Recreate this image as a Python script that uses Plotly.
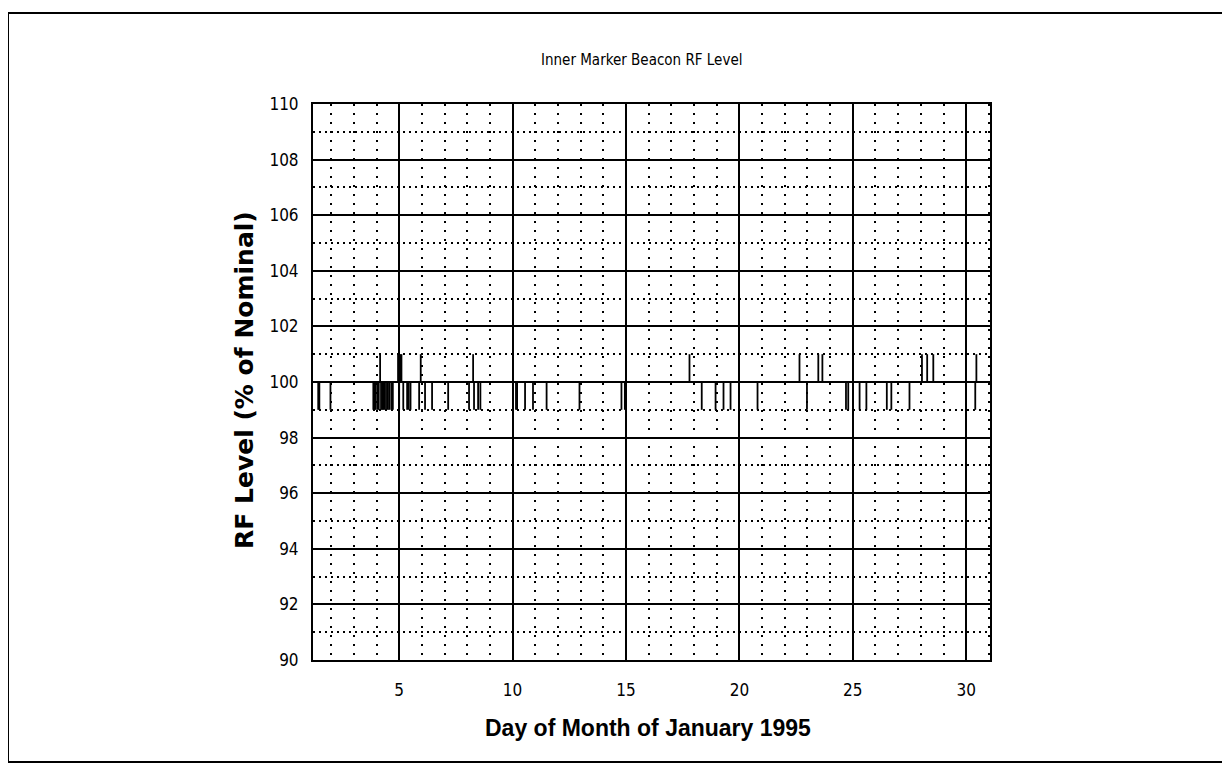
import plotly.graph_objects as go

# Signal readings: nominal level with brief excursions (day of month, % of nominal)
NOMINAL = 100
LOW_LEVEL = 99
HIGH_LEVEL = 101
DAY_START = 1.2
DAY_END = 31.05

low_days = [
    1.43, 1.48, 1.97, 3.86, 3.92, 3.97, 4.05, 4.1, 4.2, 4.25, 4.3, 4.35, 4.42,
    4.5, 4.56, 4.65, 4.72, 5.0, 5.18, 5.35, 5.42, 5.5, 5.88, 6.14, 6.45, 7.16,
    8.08, 8.3, 8.48, 8.58, 10.15, 10.2, 10.55, 10.9, 11.5, 12.95, 14.8, 14.95,
    18.34, 18.95, 19.3, 19.61, 20.8, 22.98, 24.7, 24.8, 25.3, 25.6, 26.5,
    26.7, 27.5, 30.4,
]
high_days = [
    4.16, 4.95, 5.0, 5.05, 5.1, 5.95, 8.26, 17.8, 22.65, 23.48, 23.66,
    28.05, 28.28, 28.55, 30.45,
]

x_ticks = [5, 10, 15, 20, 25, 30]
y_ticks = list(range(90, 111, 2))

FONT_NARROW = 'DejaVu Sans Condensed, Liberation Sans Narrow, Arial Narrow, sans-serif'
FONT_MAIN = 'Liberation Sans, Arial, sans-serif'
FONT_WIDE = 'DejaVu Sans, Liberation Sans, sans-serif'

# build the trace: baseline plus vertical excursions
xs = [DAY_START, DAY_END, None]
ys = [NOMINAL, NOMINAL, None]
for d in low_days:
    xs += [d, d, None]
    ys += [NOMINAL, LOW_LEVEL, None]
for d in high_days:
    xs += [d, d, None]
    ys += [NOMINAL, HIGH_LEVEL, None]

fig = go.Figure()
fig.add_trace(go.Scatter(
    x=xs, y=ys, mode='lines',
    line=dict(color='black', width=1.8),
    showlegend=False, hoverinfo='skip',
))

# page sits 8px in from the window edge (body margin)
OFF = 8
W, H = 1230 - OFF, 770 - OFF
PL, PR, PT, PB = 313, 990, 104, 660   # plot box in window pixels
L, T = PL - OFF, PT - OFF
R, B = W - (PR - OFF), H - (PB - OFF)
pw, ph = PR - PL, PB - PT


def px_x(p):
    return (p - PL) / pw


def px_y(p):
    return (PB - p) / ph


fig.update_layout(
    width=W, height=H,
    paper_bgcolor='white', plot_bgcolor='white',
    margin=dict(l=L, r=R, t=T, b=B, pad=0),
    showlegend=False,
    xaxis=dict(
        range=[DAY_START, DAY_END],
        tickvals=x_ticks,
        ticks='outside', ticklen=14, tickcolor='rgba(0,0,0,0)',
        tickfont=dict(family=FONT_NARROW, size=17, color='black'),
        showgrid=True, gridcolor='black', gridwidth=2,
        showline=True, linecolor='black', linewidth=2, mirror=True,
        zeroline=False,
        minor=dict(dtick=1, tick0=0, showgrid=True, gridcolor='black',
                   gridwidth=2, griddash='2px,7px'),
    ),
    yaxis=dict(
        range=[90, 110],
        tickvals=y_ticks,
        ticks='outside', ticklen=9, tickcolor='rgba(0,0,0,0)',
        tickfont=dict(family=FONT_NARROW, size=17, color='black'),
        showgrid=True, gridcolor='black', gridwidth=2,
        showline=True, linecolor='black', linewidth=2, mirror=True,
        zeroline=False,
        minor=dict(dtick=1, tick0=0, showgrid=True, gridcolor='black',
                   gridwidth=1.5, griddash='2px,4px'),
    ),
    annotations=[
        dict(text='Inner Marker Beacon RF Level', xref='paper', yref='paper',
             x=px_x(641), y=px_y(60), xanchor='center', yanchor='middle',
             showarrow=False,
             font=dict(family=FONT_NARROW, size=15, color='black')),
        dict(text='<b>RF Level (% of Nominal)</b>', xref='paper', yref='paper',
             x=px_x(244), y=px_y(380), xanchor='center', yanchor='middle',
             textangle=-90, showarrow=False,
             font=dict(family=FONT_WIDE, size=25, color='black')),
        dict(text='<b>Day of Month of January 1995</b>', xref='paper', yref='paper',
             x=px_x(648), y=px_y(728), xanchor='center', yanchor='middle',
             showarrow=False,
             font=dict(family=FONT_MAIN, size=23, color='black')),
    ],
    shapes=[
        dict(type='rect', xref='paper', yref='paper',
             x0=px_x(8), x1=px_x(1227), y0=px_y(762), y1=px_y(13),
             line=dict(color='black', width=2), layer='below'),
    ],
)

fig.write_html("out.html")
